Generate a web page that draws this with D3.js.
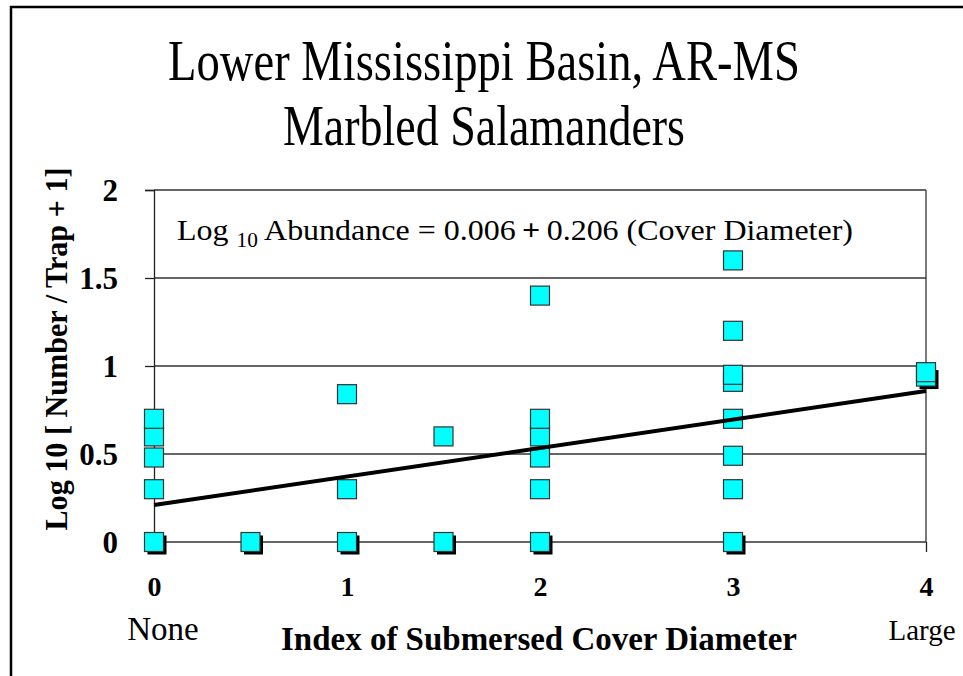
<!DOCTYPE html>
<html><head><meta charset="utf-8">
<script src="https://cdn.jsdelivr.net/npm/d3@7"></script>
<style>body{margin:0;background:#fff;} svg{display:block;}</style>
</head><body>
<svg id="chart" width="963" height="676"></svg>
<script>
// ---- data ----
const titleLines = ["Lower Mississippi Basin, AR-MS", "Marbled Salamanders"];
const xTicks = [0, 1, 2, 3, 4];
const yTicks = [0, 0.5, 1, 1.5, 2];
const xEndLabels = ["None", "Large"];
const xTitle = "Index of Submersed Cover Diameter";
const yTitle = "Log 10 [ Number / Trap + 1]";
// observations: cover index and log10 abundance (duplicates = overlapping traps)
const coverIndex = [0,0,0,0,0,0, 0.5,0.5, 1,1,1,1, 1.5,1.5,1.5, 2,2,2,2,2,2,2, 3,3,3,3,3,3,3,3,3, 4,4,4];
const logAbund   = [0.70,0.60,0.48,0.30,0,0, 0,0, 0.84,0.30,0,0, 0.60,0,0, 1.40,0.70,0.60,0.48,0.30,0,0, 1.60,1.20,0.95,0.91,0.70,0.49,0.30,0,0, 0.94,0.94,0.965];
// fitted line endpoints as drawn
const fitX = [0, 4];
const fitY = [0.21, 0.858];

const svg = d3.select("#chart");
const serif = "'Liberation Serif','Times New Roman',Times,serif";

// outer frame
svg.append("path").attr("d", "M11,676 V7 H963").attr("fill","none").attr("stroke","#000").attr("stroke-width",2.5);

const x = d3.scaleLinear().domain([0,4]).range([154,926]);
const y = d3.scaleLinear().domain([0,2]).range([542,190]);

// titles
const tl = [{t:titleLines[0], yb:80, len:632},{t:titleLines[1], yb:145, len:402}];
svg.selectAll("text.title").data(tl).join("text").attr("class","title")
  .attr("x",484).attr("y",d=>d.yb).attr("text-anchor","middle")
  .attr("font-family",serif).attr("font-size",56)
  .attr("textLength",d=>d.len).attr("lengthAdjust","spacingAndGlyphs")
  .text(d=>d.t);

// gridlines
svg.append("g").selectAll("line").data(yTicks).join("line")
  .attr("x1",x(0)).attr("x2",x(4)).attr("y1",d=>y(d)).attr("y2",d=>y(d))
  .attr("stroke","#333").attr("stroke-width",1.3);
// right border line at x=4
svg.append("line").attr("x1",x(4)).attr("x2",x(4)).attr("y1",y(2)).attr("y2",y(0))
  .attr("stroke","#333").attr("stroke-width",1.3);

// y axis
const yAxis = svg.append("g").attr("transform",`translate(${x(0)},0)`)
  .call(d3.axisLeft(y).tickValues(yTicks).tickSize(9).tickPadding(27).tickFormat(d=>String(d)));
yAxis.select(".domain").attr("stroke","#222").attr("stroke-width",1.3);
yAxis.selectAll(".tick line").attr("stroke","#222").attr("stroke-width",1.3);
yAxis.selectAll(".tick text").attr("font-family",serif).attr("font-size",31).attr("font-weight","bold").attr("fill","#000").attr("dy","0.35em");

// x axis
const xAxis = svg.append("g").attr("transform",`translate(0,${y(0)})`)
  .call(d3.axisBottom(x).tickValues(xTicks).tickSize(10).tickPadding(44).tickFormat(d=>String(d)));
xAxis.select(".domain").remove();
xAxis.selectAll(".tick line").attr("stroke","#222").attr("stroke-width",1.3);
xAxis.selectAll(".tick text").attr("font-family",serif).attr("font-size",28).attr("font-weight","bold").attr("fill","#000").attr("dy","0");

// end labels
svg.selectAll("text.endlab").data(xEndLabels).join("text").attr("class","endlab")
  .attr("x",(d,i)=>i===0?163:922).attr("y",640).attr("text-anchor","middle")
  .attr("font-family",serif).attr("font-size",(d,i)=>i===0?33:29).text(d=>d);

// axis titles
svg.append("text").attr("x",539).attr("y",650).attr("text-anchor","middle")
  .attr("font-family",serif).attr("font-size",34).attr("font-weight","bold")
  .attr("textLength",516).attr("lengthAdjust","spacingAndGlyphs").text(xTitle);
svg.append("text").attr("transform","translate(67,349) rotate(-90)").attr("text-anchor","middle")
  .attr("font-family",serif).attr("font-size",31).attr("font-weight","bold")
  .attr("textLength",363).attr("lengthAdjust","spacingAndGlyphs").text(yTitle);

// equation
const eq = svg.append("text").attr("x",177).attr("y",240).attr("font-family",serif).attr("font-size",30)
  .attr("textLength",676).attr("lengthAdjust","spacingAndGlyphs");
eq.append("tspan").text("Log ");
eq.append("tspan").attr("font-size",20).attr("dy",7).text("10");
eq.append("tspan").attr("dy",-7).text(" Abundance = 0.006");
eq.append("tspan").attr("font-weight","bold").text("\u2009+\u2009");
eq.append("tspan").text("0.206 (Cover Diameter)");

// points
const pts = coverIndex.map((c,i)=>({x:c, y:logAbund[i]}));
const key = d=>d.x+"_"+d.y;
const uniq = Array.from(d3.group(pts, key).values(), v=>({x:v[0].x, y:v[0].y, n:v.length}));
uniq.sort((a,b)=>a.y-b.y);
const s = 19;
const g = svg.append("g");
g.selectAll("rect.sh").data(uniq.filter(d=>d.n>1)).join("rect").attr("class","sh")
  .attr("x",d=>x(d.x)-s/2+3).attr("y",d=>y(d.y)-s/2+3).attr("width",s).attr("height",s).attr("fill","#000");
g.selectAll("rect.pt").data(uniq).join("rect").attr("class","pt")
  .attr("x",d=>x(d.x)-s/2).attr("y",d=>y(d.y)-s/2).attr("width",s).attr("height",s)
  .attr("fill","#00FFFF").attr("stroke","#333").attr("stroke-width",1.2);

// fit line
svg.append("line").attr("x1",x(fitX[0])).attr("y1",y(fitY[0])).attr("x2",x(fitX[1])).attr("y2",y(fitY[1]))
  .attr("stroke","#000").attr("stroke-width",4);
</script>
</body></html>
